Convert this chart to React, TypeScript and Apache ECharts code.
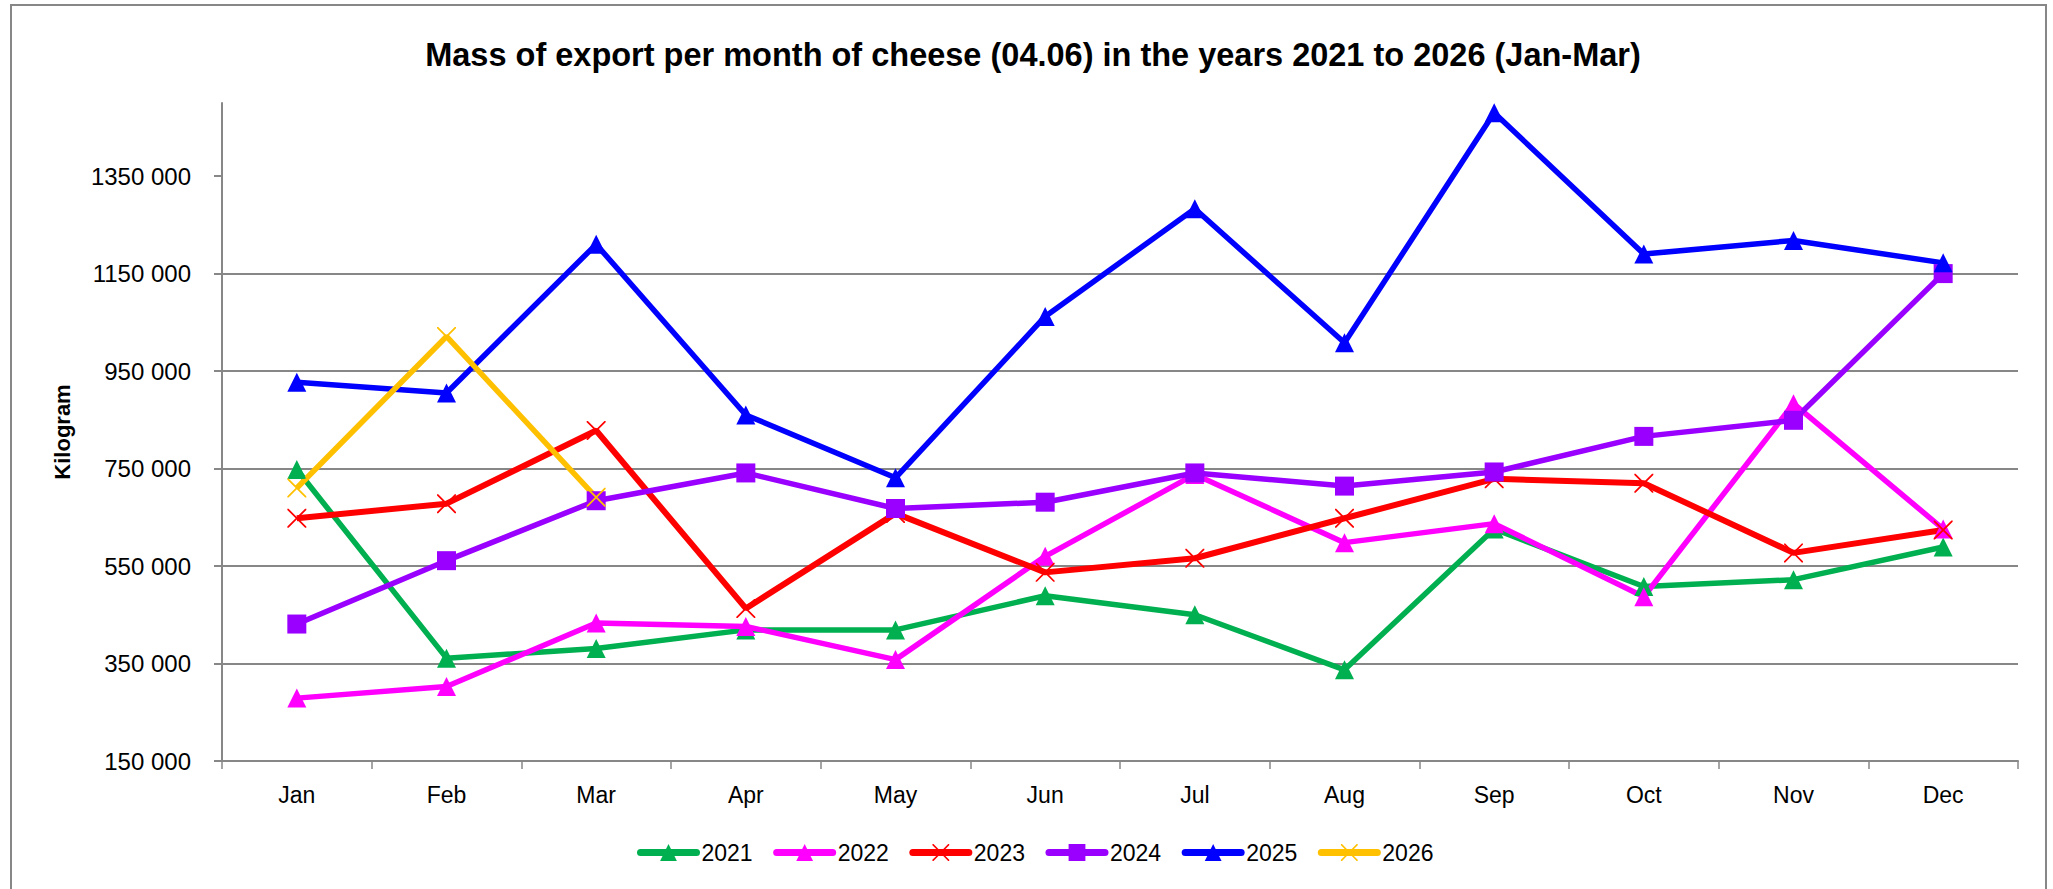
import React, { useEffect, useRef } from "react";
import * as echarts from "echarts";

const months = ["Jan", "Feb", "Mar", "Apr", "May", "Jun", "Jul", "Aug", "Sep", "Oct", "Nov", "Dec"];
const years = ["2021", "2022", "2023", "2024", "2025", "2026"];

const y2021 = [748000, 361000, 381000, 419000, 419000, 489000, 450000, 337000, 626000, 508000, 522000, 589000];
const y2022 = [279000, 303000, 433000, 426000, 358000, 570000, 738000, 598000, 637000, 487000, 883000, 626000];
const y2023 = [648000, 678000, 828000, 463000, 658000, 537000, 566000, 648000, 729000, 720000, 577000, 624000];
const y2024 = [431000, 561000, 684000, 741000, 668000, 681000, 741000, 714000, 743000, 816000, 849000, 1150000];
const y2025 = [927000, 905000, 1210000, 860000, 731000, 1062000, 1283000, 1008000, 1480000, 1190000, 1218000, 1172000];
const y2026 = [710000, 1021000, 691000];

const yTickValues = [150000, 350000, 550000, 750000, 950000, 1150000, 1350000];
const yTickLabels = ["150 000", "350 000", "550 000", "750 000", "950 000", "1150 000", "1350 000"];

const seriesData = [y2021, y2022, y2023, y2024, y2025, y2026];
const colors = ["#00B050", "#FF00FF", "#FF0000", "#9900FF", "#0000FF", "#FFC000"];

const CROSS =
  "path://M0,0 L1.3,0 L10,8.7 L18.7,0 L20,0 L20,1.3 L11.3,10 L20,18.7 L20,20 L18.7,20 L10,11.3 L1.3,20 L0,20 L0,18.7 L8.7,10 L0,1.3 Z";
const symbols = ["triangle", "triangle", CROSS, "rect", "triangle", CROSS];

const FONT = "Liberation Sans";
const GRAY = "#878787";

export default function App() {
  const ref = useRef<HTMLDivElement>(null);

  useEffect(() => {
    document.body.style.margin = "0";
    if (!ref.current) return;
    const chart = echarts.init(ref.current, null, { renderer: "svg" });

    const series = years.map((name, i) => ({
      name,
      type: "line",
      data: seriesData[i],
      symbol: symbols[i],
      symbolSize: 19,
      showAllSymbol: true,
      lineStyle: { color: colors[i], width: i === 2 ? 6 : 5.5 },
      itemStyle: { color: colors[i] },
      emphasis: { disabled: true },
    }));

    chart.setOption({
      animation: false,
      backgroundColor: "#ffffff",
      textStyle: { fontFamily: FONT },
      title: {
        text: "Mass of export per month of cheese (04.06) in the years 2021 to 2026 (Jan-Mar)",
        left: 1028,
        textAlign: "center",
        top: 33,
        textStyle: { fontFamily: FONT, fontSize: 32.5, fontWeight: "bold", color: "#000" },
      },
      graphic: [
        {
          type: "rect",
          shape: { x: 11, y: 5, width: 2035, height: 892 },
          style: { fill: "none", stroke: GRAY, lineWidth: 2 },
          silent: true,
        },
      ],
      grid: { left: 222, right: 35, top: 103, bottom: 128, outerBoundsMode: "none", containLabel: false },
      legend: {
        left: 632,
        top: 836,
        itemWidth: 56,
        itemHeight: 21,
        itemGap: 20.5,
        data: years,
        lineStyle: { width: 7, cap: "round" },
        textStyle: { fontFamily: FONT, fontSize: 23, color: "#000" },
      },
      xAxis: {
        type: "category",
        data: months,
        boundaryGap: true,
        axisLine: { lineStyle: { color: GRAY, width: 2 } },
        axisTick: { show: true, length: 8, alignWithLabel: false, lineStyle: { color: GRAY, width: 1.5 } },
        axisLabel: { fontFamily: FONT, fontSize: 23, color: "#000", margin: 22 },
        splitLine: { show: false },
      },
      yAxis: {
        type: "value",
        min: 150000,
        max: 1500000,
        name: "Kilogram",
        nameLocation: "middle",
        nameRotate: 90,
        nameGap: 149,
        nameTextStyle: { fontFamily: FONT, fontSize: 22, fontWeight: "bold", color: "#000" },
        axisLine: { show: true, lineStyle: { color: GRAY, width: 2 } },
        axisTick: { show: true, length: 8, customValues: yTickValues, lineStyle: { color: GRAY, width: 2 } },
        axisLabel: {
          customValues: yTickValues,
          fontFamily: FONT,
          fontSize: 24,
          color: "#000",
          margin: 31,
          formatter: (v: number) => {
            const i = yTickValues.indexOf(v);
            return i >= 0 ? yTickLabels[i] : "";
          },
        },
        splitLine: { show: true, showMaxLine: false, lineStyle: { color: GRAY, width: 2 } },
      },
      series,
    });

    return () => chart.dispose();
  }, []);

  return <div ref={ref} style={{ width: 2053, height: 889 }} />;
}
